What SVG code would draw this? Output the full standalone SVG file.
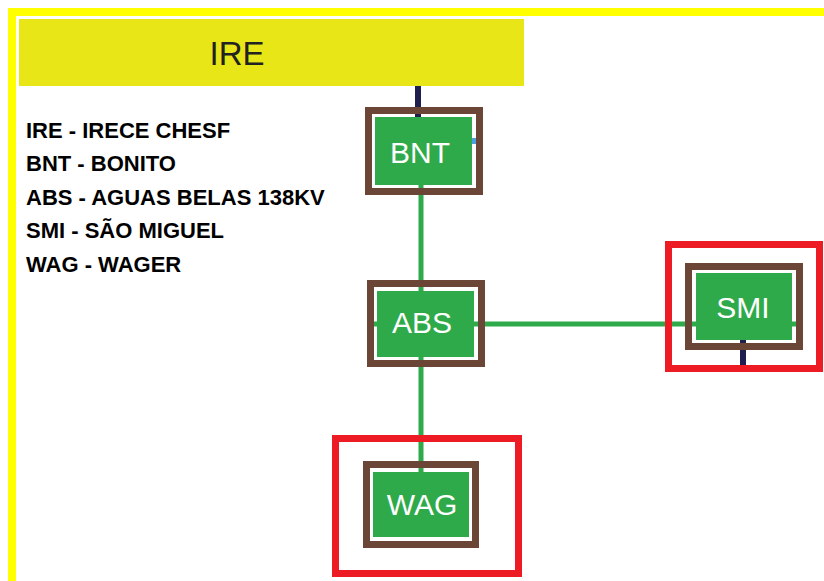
<svg xmlns="http://www.w3.org/2000/svg" width="824" height="581" viewBox="0 0 824 581">
<style>
.frame{fill:#ffff00}
.brown{fill:none;stroke:#6b4536;stroke-width:7}
.red{fill:none;stroke:#ed1c24;stroke-width:7}
.fill{fill:#2eaa4a}
.lbl{font-family:"Liberation Sans",Arial,sans-serif;font-size:30px;fill:#ffffff;text-anchor:middle}
.leg{font-family:"Liberation Sans",Arial,sans-serif;font-size:22px;font-weight:bold;fill:#000000}
.g{stroke:#2eaa4a;stroke-width:5;fill:none}
.n{stroke:#1f1f4f;stroke-width:6;fill:none}
</style>
<rect width="824" height="581" fill="#ffffff"/>
<rect class="frame" x="8" y="8" width="816" height="8"/>
<rect class="frame" x="8" y="8" width="8" height="573"/>
<g id="IRE">
<rect x="19" y="19" width="505" height="67" fill="#e8e617"/>
<text x="237" y="65" font-family="'Liberation Sans',Arial,sans-serif" font-size="33" fill="#222222" text-anchor="middle">IRE</text>
</g>
<g id="legend">
<text class="leg" x="26" y="138">IRE - IRECE CHESF</text>
<text class="leg" x="26" y="171">BNT - BONITO</text>
<text class="leg" x="26" y="205">ABS - AGUAS BELAS 138KV</text>
<text class="leg" x="26" y="238">SMI - SÃO MIGUEL</text>
<text class="leg" x="26" y="272">WAG - WAGER</text>
</g>
<g id="connectors">
<line class="n" x1="418" y1="86" x2="418" y2="118"/>
<line class="g" x1="421" y1="185" x2="421" y2="473"/>
<line class="g" x1="372" y1="324" x2="797" y2="324"/>
<line class="n" x1="743" y1="340" x2="743" y2="365"/>
</g>
<g id="BNT">
<rect class="brown" x="368.5" y="110.5" width="111" height="81"/>
<rect class="fill" x="375" y="117" width="97" height="68"/>
<rect x="472" y="138" width="4" height="6" fill="#4aa3df"/>
<text class="lbl" x="420" y="163" font-size="31">BNT</text>
</g>
<g id="ABS">
<rect class="brown" x="370.5" y="283.5" width="111" height="80"/>
<rect class="fill" x="377" y="291" width="97" height="66"/>
<text class="lbl" x="422" y="333">ABS</text>
</g>
<g id="SMI">
<rect class="red" x="668.5" y="244.5" width="151" height="124"/>
<rect class="brown" x="688.5" y="266.5" width="111" height="80"/>
<rect class="fill" x="696" y="273" width="96" height="67"/>
<text class="lbl" x="743" y="318">SMI</text>
</g>
<g id="WAG">
<rect class="red" x="335.5" y="438.5" width="183" height="135"/>
<rect class="brown" x="366.5" y="464.5" width="109" height="80"/>
<rect class="fill" x="373" y="472" width="96" height="65"/>
<text class="lbl" x="422" y="515">WAG</text>
</g>
</svg>
